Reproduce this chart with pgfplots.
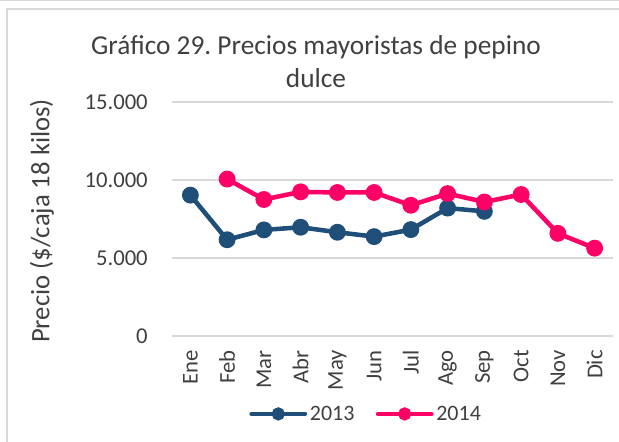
\documentclass[border=0pt]{standalone}
\usepackage{fontspec}
\setmainfont{Carlito}
\usepackage{pgfplots}
\pgfplotsset{compat=1.18}
\definecolor{cA}{HTML}{1F4E79}
\definecolor{cB}{HTML}{FF0066}
\definecolor{gridc}{HTML}{D9D9D9}
\definecolor{txt}{HTML}{404040}
\frenchspacing
\begin{document}
\begin{tikzpicture}
\useasboundingbox (0,0) rectangle (464.25pt,-331.5pt);
\draw[gridc, line width=1pt] (0,-0.6pt) -- (464.25pt,-0.6pt);
\draw[gridc, line width=1.2pt] (5.25pt,-331.5pt) -- (5.25pt,-6.75pt) -- (464.25pt,-6.75pt);
\begin{axis}[
  at={(129pt,-252pt)}, anchor=south west,
  scale only axis, width=330.75pt, height=175.5pt,
  xmin=-0.5, xmax=11.5, ymin=0, ymax=15000,
  scaled y ticks=false,
  xtick={0,...,11},
  xticklabels={Ene,Feb,Mar,Abr,May,Jun,Jul,Ago,Sep,Oct,Nov,Dic},
  ytick={0,5000,10000,15000},
  yticklabels={0,5.000,10.000,15.000},
  axis line style={draw=none},
  major tick length=0pt,
  ymajorgrids, grid style={gridc, line width=0.8pt},
  tick label style={font=\fontsize{17pt}{20pt}\selectfont, text=txt},
  xticklabel style={rotate=90, anchor=east, inner sep=0pt},
  yticklabel style={anchor=east, inner sep=0pt},
  xticklabel shift=10.5pt,
  yticklabel shift=18pt,
  /pgf/number format/assume math mode=true,
  clip=false,
  legend columns=2,
  legend style={at={(0.441,-0.333)}, anchor=center, draw=none, fill=none,
    font=\fontsize{16.5pt}{19pt}\selectfont, text=txt,
    /tikz/every even column/.append style={column sep=14pt}},
  legend image code/.code={
    \draw[#1, mark=none, line cap=round] (0pt,0pt) -- (40pt,0pt);
    \fill[#1] (20pt,0pt) circle (3.2pt);
  },
]
\addplot[cA, line width=3.4pt, mark=*, mark size=4.6pt] coordinates {
 (0,9030) (1,6170) (2,6800) (3,6970) (4,6650) (5,6370) (6,6820) (7,8200) (8,7990)};
\addlegendentry{2013}
\addplot[cB, line width=3.4pt, mark=*, mark size=4.6pt] coordinates {
 (1,10060) (2,8750) (3,9240) (4,9200) (5,9200) (6,8380) (7,9130) (8,8590) (9,9070) (10,6580) (11,5630)};
\addlegendentry{2014}
\end{axis}
\node[rotate=90, font=\fontsize{20pt}{23pt}\selectfont, text=txt] at (31.5pt,-165.75pt) {Precio (\$/caja 18 kilos)};
\node[font=\fontsize{20.5pt}{24.75pt}\selectfont, text=txt, anchor=base] at (237pt,-41.25pt) {Gráfico 29. Precios mayoristas de pepino};
\node[font=\fontsize{20.5pt}{24.75pt}\selectfont, text=txt, anchor=base] at (237pt,-66pt) {dulce};
\end{tikzpicture}
\end{document}
